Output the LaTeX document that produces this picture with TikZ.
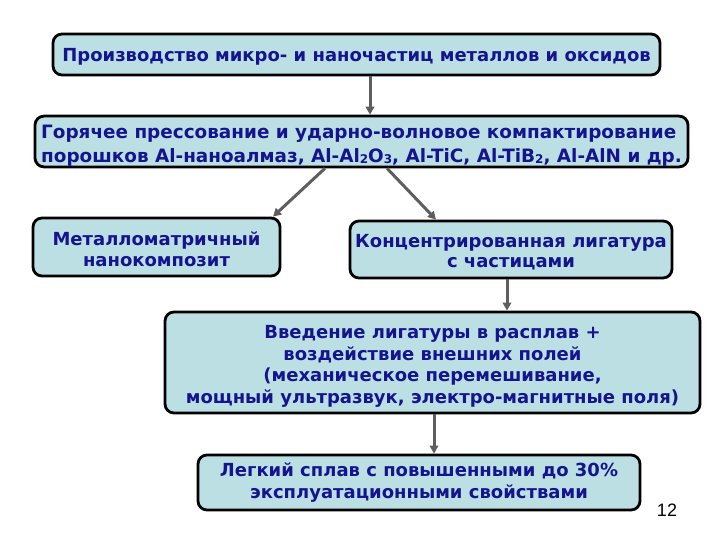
\documentclass[tikz,border=0pt]{standalone}
\usepackage{fontspec}
\setmainfont{DejaVu Sans}
\newfontfamily\pgfont{Liberation Sans}
\usetikzlibrary{arrows.meta}
\definecolor{boxfill}{HTML}{BBDFE3}
\definecolor{txtblue}{HTML}{14148F}
\definecolor{arrgray}{HTML}{5E5E5E}
\newcommand{\sbs}[1]{{\fontsize{12}{12}\selectfont\raisebox{-1pt}{#1}}}
\newcommand{\tp}[1]{\rule{0pt}{#1}}
\tikzset{
  box/.style={draw=black, line width=2.8pt, fill=boxfill, rounded corners=9pt,
    text=txtblue, font=\fontsize{18}{21.5}\selectfont\bfseries, align=center, inner sep=1pt},
  conn/.style={draw=arrgray, line width=3pt, -{Triangle[length=8pt,width=8.5pt]}}
}
\begin{document}
\begin{tikzpicture}[x=1pt,y=-1pt]
\useasboundingbox (0,0) rectangle (720,540);
\node[box, minimum width=607pt, minimum height=41pt] (b1) at (356.5,54.5)
  {\tp{18pt}Производство микро- и наночастиц металлов и оксидов};
\node[box, minimum width=653pt, minimum height=49pt, align=left,
      font=\fontsize{18.4}{24}\selectfont\bfseries] (b2) at (361.5,141.5)
  {\tp{21pt}Горячее прессование и ударно-волновое компактирование\\
   порошков Al-наноалмаз, Al-Al\sbs{2}O\sbs{3}, Al-TiC, Al-TiB\sbs{2}, Al-AlN и др.};
\node[box, minimum width=247pt, minimum height=58pt,
      font=\fontsize{18}{20.5}\selectfont\bfseries] (b3) at (156.5,247)
  {\tp{18.5pt}Металломатричный\\нанокомпозит};
\node[box, minimum width=322pt, minimum height=57pt,
      font=\fontsize{18}{20.5}\selectfont\bfseries] (b4) at (511,249.5)
  {\tp{18pt}Концентрированная лигатура\\с частицами};
\node[box, minimum width=535pt, minimum height=101pt] (b5) at (432.5,362.5)
  {\tp{21pt}Введение лигатуры в расплав +\\воздействие внешних полей\\(механическое перемешивание,\\мощный ультразвук, электро-магнитные поля)};
\node[box, minimum width=442pt, minimum height=55pt,
      font=\fontsize{18}{22}\selectfont\bfseries] (b6) at (419,482.5)
  {Легкий сплав с повышенными до 30\%\\эксплуатационными свойствами};
\node[font=\pgfont\fontsize{18}{18}\selectfont, text=black] (pg) at (667,510) {12};
\draw[conn] (b1.south -| 370,0) -- (b2.north -| 370,0);
\draw[conn] (b2.south -| 325,0) -- (b3.north -| 273,0);
\draw[conn] (b2.south -| 387,0) -- (b4.north -| 436,0);
\draw[conn] (b4.south -| 507,0) -- (b5.north -| 507,0);
\draw[conn] (b5.south -| 434,0) -- (b6.north -| 434,0);
\end{tikzpicture}
\end{document}
